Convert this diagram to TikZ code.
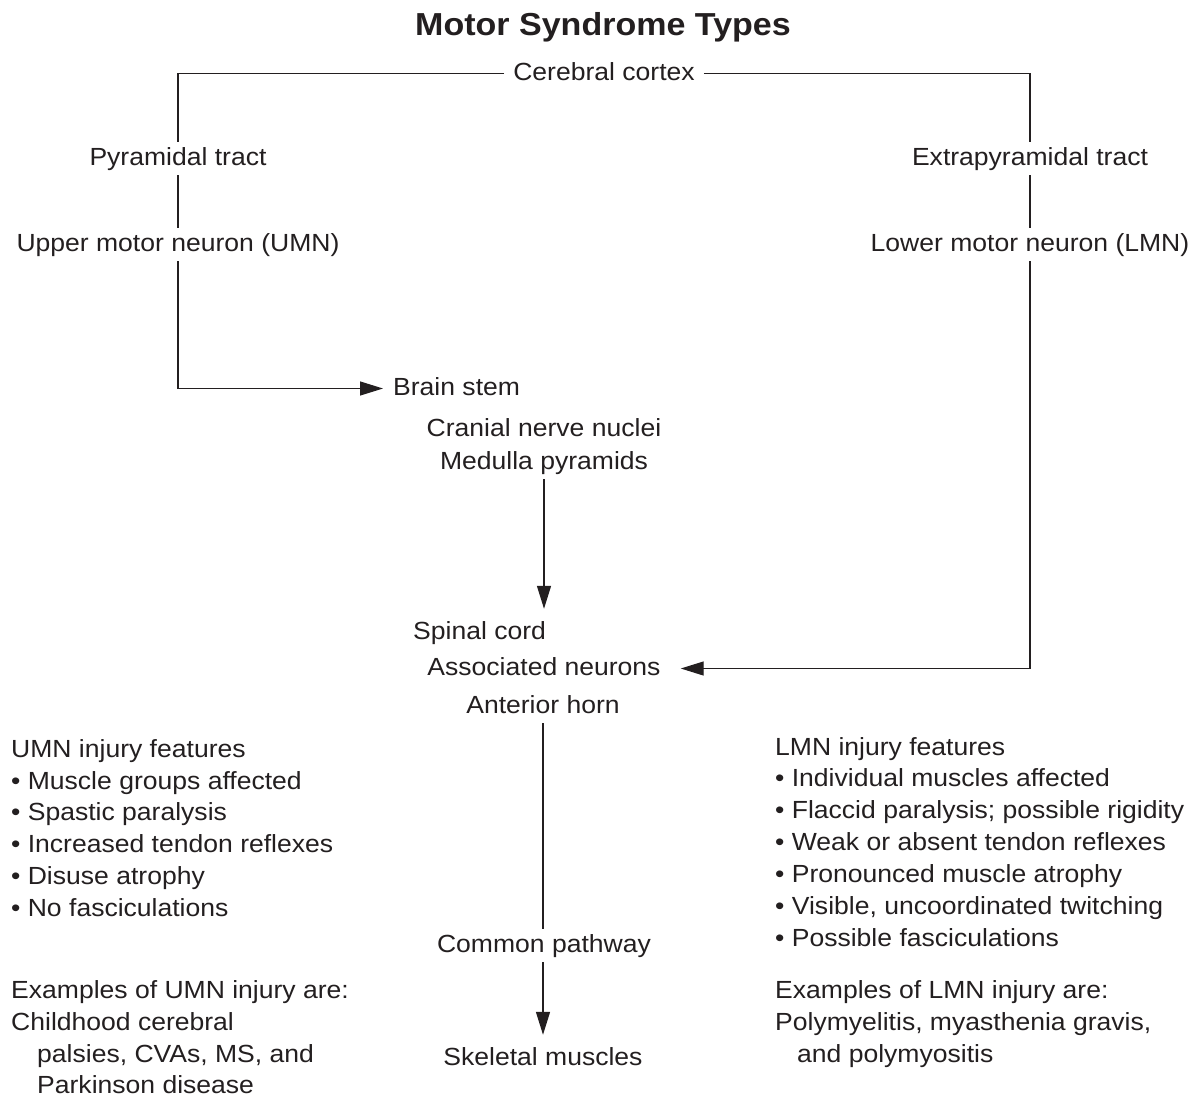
\documentclass[tikz,border=0pt]{standalone}
\usepackage{fontspec}
\setmainfont{Liberation Sans}[FakeStretch=1.07]
\usetikzlibrary{arrows.meta}
\definecolor{ink}{RGB}{35,31,32}
\begin{document}
\begin{tikzpicture}[x=1pt,y=-1pt,
  every node/.style={font=\fontsize{24.8}{30}\selectfont, text=ink, inner xsep=9pt, inner ysep=5pt, text height=18pt, text depth=5pt},
  lbl/.style={fill=white},
  conn/.style={draw=ink, line width=1.3pt},
  arr/.style={conn, -{Triangle[length=23pt,width=14pt]}},
  item/.style={anchor=base west, inner sep=0pt},
]
\useasboundingbox (0,0) rectangle (1202,1098);

\node[font=\bfseries\fontsize{31.8}{36}\selectfont, anchor=base, inner sep=0pt] (title) at (603,35) {Motor Syndrome Types};

\node[lbl, anchor=base] (cortex) at (604,80) {Cerebral cortex};
\node[lbl, anchor=base] (pyr) at (178,165) {Pyramidal tract};
\node[lbl, anchor=base] (umn) at (178,251) {Upper motor neuron (UMN)};
\node[lbl, anchor=base] (extra) at (1030,165) {Extrapyramidal tract};
\node[lbl, anchor=base] (lmn) at (1030,251) {Lower motor neuron (LMN)};
\node[anchor=base west] (brain) at (384,395) {Brain stem};
\node[anchor=base] (cranial) at (544,436) {Cranial nerve nuclei};
\node[anchor=base] (medulla) at (544,469) {Medulla pyramids};
\node[anchor=base west] (spinal) at (404,639) {Spinal cord};
\node[anchor=base] (assoc) at (544,675) {Associated neurons};
\node[anchor=base] (anterior) at (543,713) {Anterior horn};
\node[anchor=base] (common) at (544,952) {Common pathway};
\node[anchor=base] (skeletal) at (543,1065) {Skeletal muscles};

\draw[conn] (cortex.west) -| (pyr.north);
\draw[conn] (cortex.east) -| (extra.north);
\draw[conn] (pyr.south) -- (umn.north);
\draw[arr, shorten >=1pt] (umn.south) |- (brain.west);
\draw[conn] (extra.south) -- (lmn.north);
\draw[arr, shorten >=11pt] (lmn.south) |- (assoc.east);
\draw[arr, shorten >=7pt] (medulla.south) -- (medulla.south |- spinal.north);
\draw[conn] (anterior.south) -- (anterior.south |- common.north);
\draw[arr, shorten >=7pt] (anterior.south |- common.south) -- (anterior.south |- skeletal.north);

\node[item] (l1) at (11,757) {UMN injury features};
\node[item] (l2) at (11,789) {• Muscle groups affected};
\node[item] (l3) at (11,820) {• Spastic paralysis};
\node[item] (l4) at (11,852) {• Increased tendon reflexes};
\node[item] (l5) at (11,884) {• Disuse atrophy};
\node[item] (l6) at (11,916) {• No fasciculations};
\node[item] (l7) at (11,998) {Examples of UMN injury are:};
\node[item] (l8) at (11,1030) {Childhood cerebral};
\node[item] (l9) at (37,1062) {palsies, CVAs, MS, and};
\node[item] (l10) at (37,1093) {Parkinson disease};

\node[item] (r1) at (775,755) {LMN injury features};
\node[item] (r2) at (775,786) {• Individual muscles affected};
\node[item] (r3) at (775,818) {• Flaccid paralysis; possible rigidity};
\node[item] (r4) at (775,850) {• Weak or absent tendon reflexes};
\node[item] (r5) at (775,882) {• Pronounced muscle atrophy};
\node[item] (r6) at (775,914) {• Visible, uncoordinated twitching};
\node[item] (r7) at (775,946) {• Possible fasciculations};
\node[item] (r8) at (775,998) {Examples of LMN injury are:};
\node[item] (r9) at (775,1030) {Polymyelitis, myasthenia gravis,};
\node[item] (r10) at (797,1062) {and polymyositis};
\end{tikzpicture}
\end{document}
